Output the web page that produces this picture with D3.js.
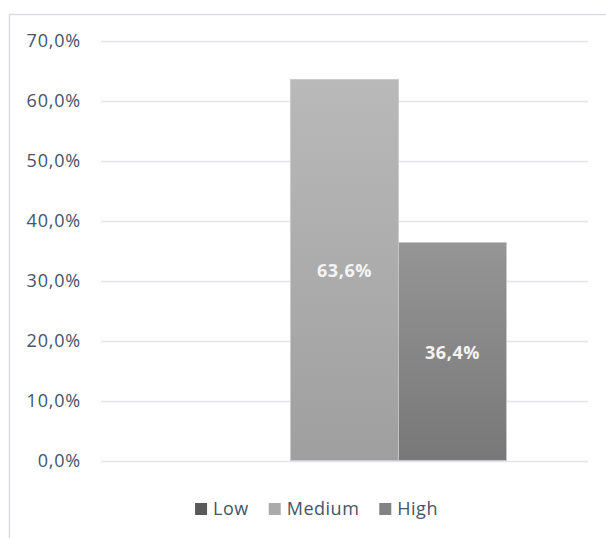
<!DOCTYPE html>
<html><head><meta charset="utf-8">
<script src="https://cdn.jsdelivr.net/npm/d3@7"></script>
<style>
html,body{margin:0;padding:0;background:#fff;}
svg{display:block;}
text{font-family:"Open Sans",sans-serif;}
</style></head>
<body>
<svg id="chart" width="606" height="538"></svg>
<script>
const categories = ["Risk"];
const seriesNames = ["Low", "Medium", "High"];
const seriesValues = [0.0, 0.636, 0.364];
const yTicks = [0, 0.1, 0.2, 0.3, 0.4, 0.5, 0.6, 0.7];
const seriesColors = ["#5a5a5a", "#aaaaaa", "#828282"];
const gradTop = ["#666666", "#b9b9b9", "#959595"];
const gradBottom = ["#505050", "#9f9f9f", "#787878"];

const svg = d3.select("#chart");
const locale = d3.formatLocale({decimal: ",", thousands: ".", grouping: [3], currency: ["", "€"]});
const fmt = locale.format(".1%");

// outer border
svg.append("rect").attr("x", 9.5).attr("y", 14.5).attr("width", 640).attr("height", 600)
  .attr("fill", "none").attr("stroke", "#d9dce1").attr("stroke-width", 1.5);

const left = 101, right = 588;
const y = d3.scaleLinear().domain([0, 0.7]).range([460.5, 41]);
const x0 = d3.scaleBand().domain(categories).range([left, right]).paddingInner(0.201).paddingOuter(0.201);
const x1 = d3.scaleBand().domain(seriesNames).range([0, x0.bandwidth()]).padding(0);

const defs = svg.append("defs");
seriesNames.forEach((s, i) => {
  const g = defs.append("linearGradient").attr("id", "g" + i).attr("x1", 0).attr("y1", 0).attr("x2", 0).attr("y2", 1);
  g.append("stop").attr("offset", "0%").attr("stop-color", gradTop[i]);
  g.append("stop").attr("offset", "100%").attr("stop-color", gradBottom[i]);
});

// gridlines
svg.append("g").selectAll("line").data(yTicks).join("line")
  .attr("x1", left).attr("x2", right)
  .attr("y1", d => Math.round(y(d)) + 0.5).attr("y2", d => Math.round(y(d)) + 0.5)
  .attr("stroke", "#e1e4e9").attr("stroke-width", 1.5);

// y axis labels
svg.append("g").selectAll("text").data(yTicks).join("text")
  .attr("x", 81).attr("y", d => y(d)).attr("dy", "0.35em")
  .attr("text-anchor", "end").attr("font-size", 18).attr("letter-spacing", 0.8)
  .attr("fill", "#44546a").text(d => fmt(d));

// bars
const data = seriesNames.map((s, i) => ({cat: categories[0], name: s, value: seriesValues[i], i}));
svg.append("g").selectAll("rect").data(data.filter(d => d.value > 0)).join("rect")
  .attr("x", d => x0(d.cat) + x1(d.name))
  .attr("y", d => y(d.value))
  .attr("width", x1.bandwidth())
  .attr("height", d => y(0) - y(d.value))
  .attr("fill", d => `url(#g${d.i})`)
  .attr("stroke", "#c9c9c9").attr("stroke-width", 0.8);

// data labels
svg.append("g").selectAll("text").data(data.filter(d => d.value > 0)).join("text")
  .attr("x", d => x0(d.cat) + x1(d.name) + x1.bandwidth() / 2)
  .attr("y", d => (y(d.value) + y(0)) / 2 + 1)
  .attr("dy", "0.35em").attr("text-anchor", "middle")
  .attr("font-size", 18).attr("font-weight", "bold").attr("letter-spacing", 0.6)
  .attr("fill", "#f4f4f4").text(d => fmt(d.value));

// legend
const lg = svg.append("g");
const items = lg.selectAll("g").data(seriesNames).join("g");
items.append("rect").attr("width", 12).attr("height", 12).attr("y", 503)
  .attr("fill", (d, i) => seriesColors[i]);
items.append("text").attr("x", 18).attr("y", 509).attr("dy", "0.35em")
  .attr("font-size", 18).attr("letter-spacing", 0.5).attr("fill", "#44546a").text(d => d);
let widths = [];
items.each(function(){ widths.push(this.getBBox().width); });
const gap = 20;
const total = d3.sum(widths) + gap * (widths.length - 1);
let cx = 316.5 - total / 2;
items.attr("transform", (d, i) => { const t = `translate(${cx},0)`; cx += widths[i] + gap; return t; });
</script>
</body></html>
